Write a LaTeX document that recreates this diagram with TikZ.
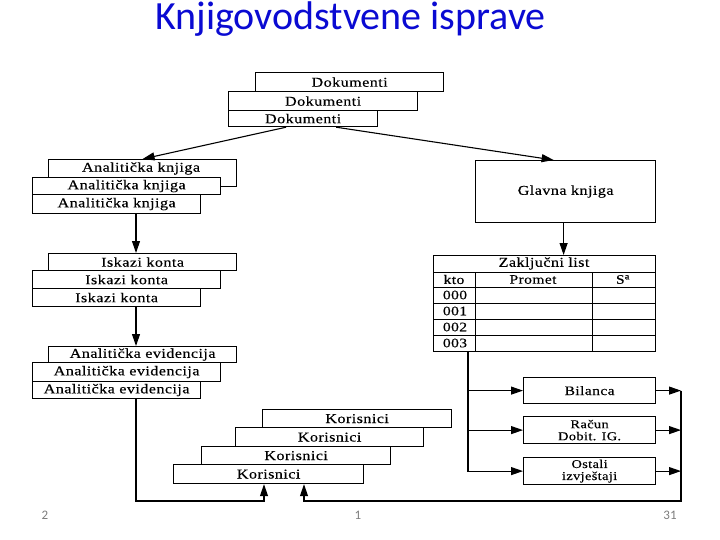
\documentclass[tikz,border=0pt]{standalone}
\usepackage{fontspec}
\setmainfont{Liberation Serif}[FakeStretch=1.2,FakeBold=0.3,LetterSpace=3]
\newfontfamily\titlefont{Carlito}
\usetikzlibrary{arrows.meta}
\definecolor{titleblue}{RGB}{10,10,210}
\definecolor{pagegray}{RGB}{125,125,125}
\begin{document}
\begin{tikzpicture}[x=1pt,y=-1pt,
  box/.style={draw, line width=1.2pt, fill=white, anchor=north west, inner sep=0pt,
    font=\fontsize{13.5}{14}\selectfont},
  txt/.style={inner sep=0pt, font=\fontsize{13.5}{14}\selectfont},
  smalltxt/.style={inner sep=0pt, align=center, font=\fontsize{13}{13}\selectfont},
  twoline/.style={inner sep=0pt, align=center, font=\fontsize{12}{12}\selectfont},
  conn/.style={line width=1.1pt},
  arr/.style={conn, -{Triangle[length=12pt,width=8pt]}},
  pagenum/.style={text=pagegray, font=\titlefont\fontsize{13}{13}\selectfont}]
\useasboundingbox (0,0) rectangle (720,540);

% title
\node[anchor=base, text=titleblue, font=\titlefont\fontsize{40}{40}\selectfont] (title) at (350.5,30) {Knjigovodstvene isprave};

% Dokumenti
\node[box, minimum width=188, minimum height=19] (d1) at (255,72) {Dokumenti};
\node[box, minimum width=189, minimum height=19] (d2) at (228,91) {Dokumenti};
\node[box, minimum width=149, minimum height=16] (d3) at (228,110) {Dokumenti};

% Analiticka knjiga
\node[box, minimum width=188, minimum height=27] (ak1) at (48,159) {};
\node[txt] (ak1t) at (141,168.5) {Analitička knjiga};
\node[box, minimum width=188, minimum height=17] (ak2) at (32,177) {Analitička knjiga};
\node[box, minimum width=168, minimum height=19] (ak3) at (32,194) {Analitička knjiga};

% Iskazi konta
\node[box, minimum width=188, minimum height=17] (ik1) at (48,253) {Iskazi konta};
\node[box, minimum width=188, minimum height=18] (ik2) at (32,270) {Iskazi konta};
\node[box, minimum width=168, minimum height=18] (ik3) at (32,288) {Iskazi konta};

% Analiticka evidencija
\node[box, minimum width=188, minimum height=16] (ev1) at (48,346) {Analitička evidencija};
\node[box, minimum width=188, minimum height=19] (ev2) at (32,362) {Analitička evidencija};
\node[box, minimum width=168, minimum height=17] (ev3) at (32,381) {Analitička evidencija};

% Glavna knjiga
\node[box, minimum width=180, minimum height=62] (gk) at (475,160) {Glavna knjiga};

% Zakljucni list table
\node[box, minimum width=222, minimum height=96] (zt) at (433,255) {};
\draw[line width=1pt] (zt.west |- 0,272) -- (zt.east |- 0,272);
\foreach \yy in {287,303,319,335}
  \draw[line width=1pt] (zt.west |- 0,\yy) -- (zt.east |- 0,\yy);
\draw[line width=1pt] (475,272) -- (475,351);
\draw[line width=1pt] (592,272) -- (592,351);
\node[txt] (zlt) at (544,263.5) {Zaključni list};
\node[smalltxt] (kto) at (454,279.5) {kto};
\node[smalltxt] (prom) at (533,279.5) {Promet};
\node[smalltxt] (sa) at (623,279.5) {S\textsuperscript{a}};
\node[smalltxt] (r0) at (455,295) {000};
\node[smalltxt] (r1) at (455,311) {001};
\node[smalltxt] (r2) at (455,327) {002};
\node[smalltxt] (r3) at (455,343) {003};

% report boxes
\node[box, minimum width=132, minimum height=26] (bil) at (523,377) {};
\node[smalltxt] (bilt) at (bil.center) {Bilanca};
\node[box, minimum width=132, minimum height=27] (rac) at (523,416) {};
\node[twoline] (ract) at (rac.center) {Račun\\Dobit. IG.};
\node[box, minimum width=132, minimum height=27] (ost) at (523,457) {};
\node[twoline] (ostt) at (ost.center) {Ostali\\izvještaji};

% Korisnici
\node[box, minimum width=189, minimum height=18] (k1) at (262,409) {Korisnici};
\node[box, minimum width=188, minimum height=19] (k2) at (235,427) {Korisnici};
\node[box, minimum width=189, minimum height=18] (k3) at (201,446) {Korisnici};
\node[box, minimum width=190, minimum height=19] (k4) at (173,464) {Korisnici};

% helper coordinates
\coordinate (cl) at (136,0);
\coordinate (ct) at (468,0);
\coordinate (rv) at (681,0);
\coordinate (bot) at (0,501);
\coordinate (ka) at (264,0);
\coordinate (kb) at (304,0);

% connectors
\draw[arr] ([xshift=-17pt]d3.south) -- (ak1.north);
\draw[arr] ([xshift=33pt]d3.south) -- ([xshift=-12pt]gk.north);
\draw[arr] ([xshift=-2pt]gk.south) -- ([xshift=-2pt]gk.south |- zt.north);

\draw[arr] (cl |- ak3.south) -- (cl |- ik1.north);
\draw[arr] (cl |- ik3.south) -- (cl |- ev1.north);
\draw[arr] (cl |- ev3.south) |- (ka |- bot) -- (ka |- k4.south);

\draw[arr] (ct |- zt.south) |- (bil.west);
\draw[arr] (ct |- zt.south) |- (rac.west);
\draw[arr] (ct |- zt.south) |- (ost.west);

\draw[arr] (bil.east) -- (rv |- bil.east);
\draw[arr] (rac.east) -- (rv |- rac.east);
\draw[arr] (ost.east) -- (rv |- ost.east);
\draw[arr] (rv |- bil.east) -- (rv |- bot) -| (kb |- k4.south);

% page numbers
\node[pagenum] (p2) at (45,515) {2};
\node[pagenum] (p1) at (358,515) {1};
\node[pagenum] (p31) at (670,515) {31};
\end{tikzpicture}
\end{document}
